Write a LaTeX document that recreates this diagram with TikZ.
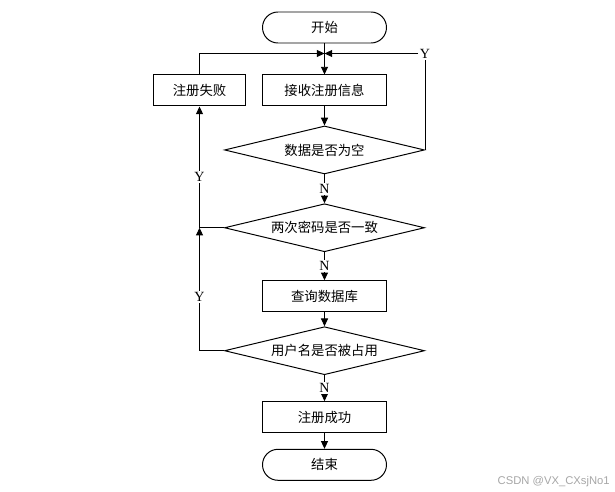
\documentclass[tikz,border=0pt]{standalone}
\usepackage{fontspec}
\setmainfont{Liberation Serif}
\newfontfamily\cjk{Noto Sans CJK SC}
\newfontfamily\wmfont{Liberation Sans}
\usepackage{tikz}
\usetikzlibrary{positioning,calc,shapes.geometric,arrows.meta}
\tikzset{
	box/.style={draw=black,line width=0.7pt,minimum width=3.1cm,minimum height=0.775cm,font=\cjk\fontsize{9.5}{11}\selectfont},
	term/.style={box,rounded corners=0.3875cm},
	dec/.style={draw=black,line width=0.7pt,diamond,aspect=4.1,minimum width=5cm,minimum height=1.2cm,inner sep=0.5pt,font=\cjk\fontsize{9.5}{11}\selectfont},
	lbl/.style={fill=white,inner sep=1pt,font=\fontsize{10}{12}\selectfont},
	arr/.style={-{Triangle[length=5.5pt,width=5pt]},line width=0.7pt},
	ln/.style={line width=0.7pt}
}
\begin{document}
\begin{tikzpicture}
		\useasboundingbox (0,0) rectangle (15.375,-12.3);
		\node[term] (start) at (8.1125,-0.6875) {开始};
		\node[box,below=0.775cm of start] (recv) {接收注册信息};
		\node[box,minimum width=2.3cm,left=0.4cm of recv] (fail) {注册失败};
		\node[dec,below=0.475cm of recv] (empty) {数据是否为空};
		\node[dec,below=0.72cm of empty] (same) {两次密码是否一致};
		\node[box,below=0.7cm of same] (query) {查询数据库};
		\node[dec,below=0.35cm of query] (taken) {用户名是否被占用};
		\node[box,below=0.65cm of taken] (ok) {注册成功};
		\node[term,below=0.39cm of ok] (stop) {结束};
		\coordinate[above=0.525cm of recv.north] (join);
		\coordinate (back) at (fail.south |- same.west);
		\node[lbl] (yr) at (empty.east |- join) {Y};
		\node[font=\wmfont\fontsize{8}{9}\selectfont,text=black!35,anchor=east,inner sep=0pt] (wm) at (15.25,-12.05) {CSDN @VX\_CXsjNo1};
		
		\draw[arr] (start) -- (recv);
		\draw[arr] (fail.north) |- (join);
		\draw[ln] (empty.east) -- (yr.south);
		\draw[arr] (yr.west) -- (join);
		\draw[arr] (recv) -- (empty);
		\draw[arr] (empty) -- node[lbl] {N} (same);
		\draw[arr] (same) -- node[lbl] {N} (query);
		\draw[arr] (query) -- (taken);
		\draw[arr] (taken) -- node[lbl] {N} (ok);
		\draw[arr] (ok) -- (stop);
		\draw[arr] (taken.west) -| node[lbl,pos=0.72] {Y} (back);
		\draw[arr] (same.west) -- (back) -- node[lbl,pos=0.42] {Y} (fail.south);
	\end{tikzpicture}
\end{document}
